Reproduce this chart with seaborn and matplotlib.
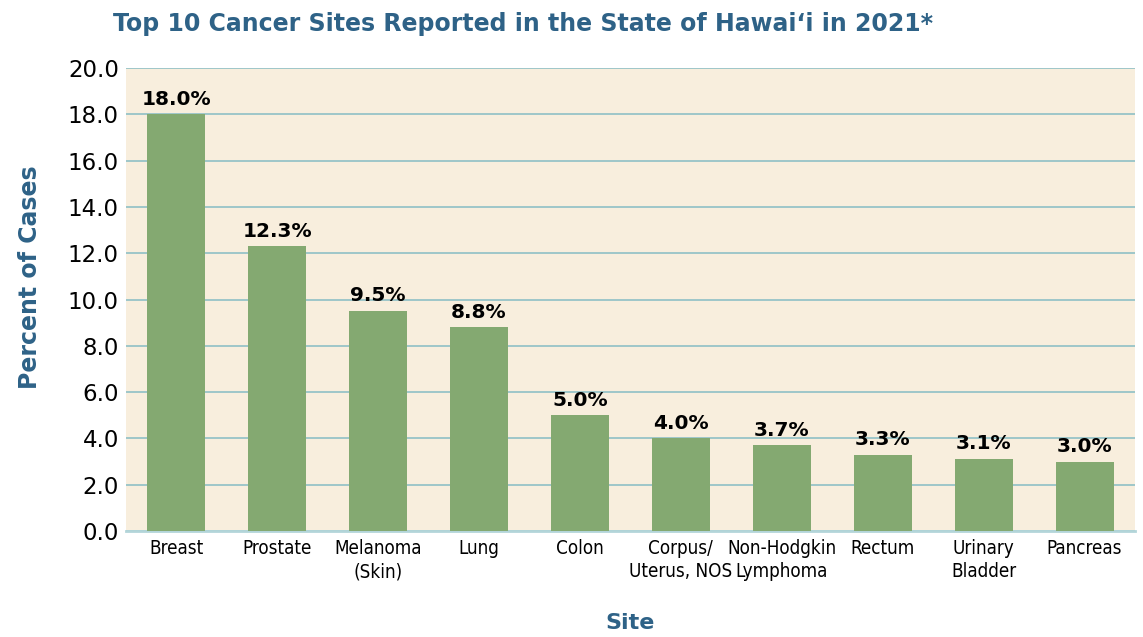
import pandas as pd
import matplotlib.pyplot as plt
import seaborn as sns

sites = ["Breast", "Prostate", "Melanoma\n(Skin)", "Lung", "Colon",
         "Corpus/\nUterus, NOS", "Non-Hodgkin\nLymphoma", "Rectum",
         "Urinary\nBladder", "Pancreas"]
percent = [18.0, 12.3, 9.5, 8.8, 5.0, 4.0, 3.7, 3.3, 3.1, 3.0]
y_ticks = [0, 2, 4, 6, 8, 10, 12, 14, 16, 18, 20]

BLUE = "#2e6287"
BAR = "#84a971"
BG = "#f8eedd"
GRID = "#8fc0c6"

sns.set_theme(style="white")
plt.rcParams['font.family'] = ['DejaVu Sans']

df = pd.DataFrame({"site": sites, "pct": percent})

fig = plt.figure(figsize=(11.43, 6.37), dpi=100)
ax = fig.add_axes([0.110, 0.1664, 0.883, 0.7266])
ax.set_facecolor(BG)

sns.barplot(data=df, x="site", y="pct", color=BAR, width=0.575,
            saturation=1, linewidth=0, ax=ax, zorder=3)

ax.set_ylim(0, 20)
ax.set_yticks(y_ticks)
ax.set_yticklabels([f"{t:.1f}" for t in y_ticks], fontsize=16.5, color="black")
ax.yaxis.grid(True, color=GRID, linewidth=1.2, zorder=0)
ax.set_axisbelow(True)
ax.tick_params(axis="y", length=0, pad=5)
ax.tick_params(axis="x", length=0, pad=6)
ax.set_xlim(-0.5, 9.5)
for lbl in ax.get_xticklabels():
    lbl.set_fontsize(13.5)
    lbl.set_fontstretch("condensed")
    lbl.set_linespacing(1.25)
    lbl.set_color("black")

for s in ["top", "right", "left"]:
    ax.spines[s].set_visible(False)
ax.spines["bottom"].set_color("#b3d5d9")
ax.spines["bottom"].set_linewidth(2)

for i, v in enumerate(percent):
    ax.text(i, v + 0.25, f"{v:.1f}%", ha="center", va="bottom",
            fontsize=14.5, fontweight="bold", color="black")

ax.set_xlabel("Site", fontsize=16, fontweight="bold", color=BLUE, labelpad=23)
ax.set_ylabel("")
fig.text(0.026, 0.565, "Percent of Cases", rotation=90, ha="center", va="center",
         fontsize=17, fontweight="bold", color=BLUE)

fig.text(0.458, 0.962, "Top 10 Cancer Sites Reported in the State of Hawai\u02bbi in 2021*",
         ha="center", va="center", fontsize=17, fontweight="bold", color=BLUE)

fig.savefig("out.png", dpi=100, facecolor="white")
